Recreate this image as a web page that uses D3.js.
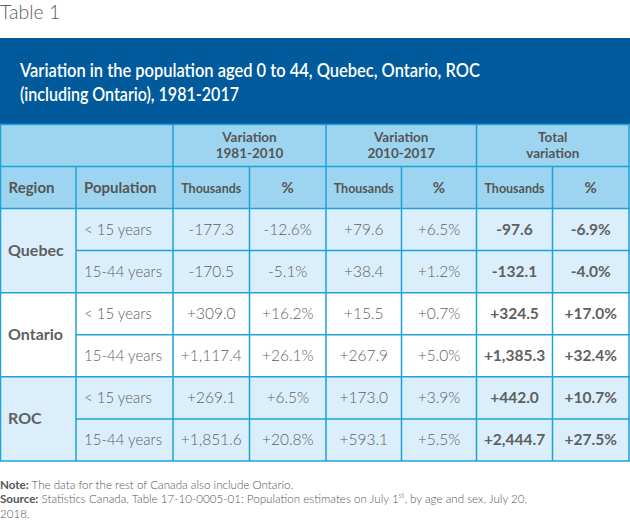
<!DOCTYPE html>
<html><head><meta charset="utf-8">
<script src="https://cdn.jsdelivr.net/npm/d3@7"></script>
<style>
html,body{margin:0;padding:0;background:#fff;}
svg{display:block;}
</style></head>
<body>
<script>
// ---- data ----
const tableLabel = "Table 1";
const titleLines = ["Variation in the population aged 0 to 44, Quebec, Ontario, ROC", "(including Ontario), 1981-2017"];
const groupHeaders = [["Variation", "1981-2010"], ["Variation", "2010-2017"], ["Total", "variation"]];
const subHeaders = ["Region", "Population", "Thousands", "%", "Thousands", "%", "Thousands", "%"];
const regions = ["Quebec", "Ontario", "ROC"];
const populations = ["< 15 years", "15-44 years"];
const var1981Thousands = [-177.3, -170.5, 309.0, 1117.4, 269.1, 1851.6];
const var1981Pct = [-12.6, -5.1, 16.2, 26.1, 6.5, 20.8];
const var2010Thousands = [79.6, 38.4, 15.5, 267.9, 173.0, 593.1];
const var2010Pct = [6.5, 1.2, 0.7, 5.0, 3.9, 5.5];
const totalThousands = [-97.6, -132.1, 324.5, 1385.3, 442.0, 2444.7];
const totalPct = [-6.9, -4.0, 17.0, 32.4, 10.7, 27.5];
const noteText = "The data for the rest of Canada also include Ontario.";
const sourceText = "Statistics Canada, Table 17-10-0005-01: Population estimates on July 1";

// ---- layout ----
const W = 630, H = 521;
const colEdges = [0.5, 76, 173, 249.5, 326, 401.5, 476.5, 552.5, 629];
const bannerTop = 38, bannerBottom = 124.5;
const head1 = [124.5, 166.5], head2 = [166.5, 208.5];
const bodyTop = 208.5, bodyBottom = 461;
const C = {
  banner: "#005a9c", head: "#9dd5f1", band: "#dbeefb", white: "#ffffff",
  line: "#1ea2dc", text: "#5f5f5f", headText: "#555555"
};
const FONT = "Lato, 'Open Sans', sans-serif";

const loc = d3.formatLocale({decimal: ".", thousands: ",", grouping: [3], currency: ["$", ""], minus: "-"});
const fmtK = loc.format("+,.1f");
const fmtP = v => loc.format("+.1f")(v) + "%";

const svg = d3.select("body").append("svg").attr("width", W).attr("height", H)
  .style("font-family", FONT);

// Table label
svg.append("text").attr("x", 0).attr("y", 19).attr("fill", "#606060")
  .style("font-size", "19.5px").style("font-weight", 300).text(tableLabel);

// Banner
svg.append("rect").attr("x", 0).attr("y", bannerTop).attr("width", W).attr("height", bannerBottom - bannerTop).attr("fill", C.banner);
const titleWidths = [460, 219];
svg.append("g").selectAll("text").data(titleLines).join("text")
  .attr("x", 20).attr("y", (d, i) => 76.5 + i * 24.5)
  .attr("textLength", (d, i) => titleWidths[i]).attr("lengthAdjust", "spacingAndGlyphs")
  .attr("fill", "#fff").style("font-size", "19px").style("font-weight", 600).text(d => d);

// row scale
const rowIdx = d3.range(var1981Thousands.length);
const y = d3.scaleBand().domain(rowIdx).range([bodyTop, bodyBottom]).padding(0);
const x = i => colEdges[i];
const cx = i => (colEdges[i] + colEdges[i + 1]) / 2;

// header backgrounds
svg.append("rect").attr("x", 0).attr("y", head1[0]).attr("width", W).attr("height", head2[1] - head1[0]).attr("fill", C.head);

// body backgrounds per region
svg.append("g").selectAll("rect").data(regions).join("rect")
  .attr("x", 0).attr("y", (d, i) => y(i * 2)).attr("width", W)
  .attr("height", y.bandwidth() * 2)
  .attr("fill", (d, i) => i % 2 === 0 ? C.band : C.white);

// group headers
const groupCols = [2, 4, 6];
const gh = svg.append("g").selectAll("text").data(groupHeaders).join("text")
  .attr("text-anchor", "middle").attr("fill", C.headText)
  .style("font-size", "13.5px").style("font-weight", 700);
gh.each(function(d, i) {
  const cxx = (colEdges[groupCols[i]] + colEdges[groupCols[i] + 2]) / 2;
  d3.select(this).selectAll("tspan").data(d).join("tspan")
    .attr("x", cxx).attr("y", (t, j) => 142 + j * 16.2).text(t => t);
});

// sub headers
svg.append("g").selectAll("text").data(subHeaders).join("text")
  .attr("x", (d, i) => i < 2 ? x(i) + 8 : cx(i))
  .attr("y", 193)
  .attr("text-anchor", (d, i) => i < 2 ? "start" : "middle")
  .attr("fill", C.headText)
  .each(function(d) { if (d === "Thousands") d3.select(this).attr("textLength", 60).attr("lengthAdjust", "spacingAndGlyphs"); })
  .style("font-size", d => d === "Thousands" ? "14px" : "15px")
  .style("font-weight", 700)
  .text(d => d);

// region labels
svg.append("g").selectAll("text").data(regions).join("text")
  .attr("x", 8).attr("y", (d, i) => y(i * 2) + y.bandwidth() + 5)
  .attr("fill", C.text).style("font-size", "16px").style("font-weight", 700).text(d => d);

// population labels
svg.append("g").selectAll("text").data(rowIdx).join("text")
  .attr("x", x(1) + 8).attr("y", i => y(i) + y.bandwidth() / 2 + 5.5)
  .attr("fill", C.text).style("font-size", "15px").style("font-weight", 300)
  .text(i => populations[i % 2]);

// values
const columns = [
  {vals: var1981Thousands, f: fmtK, bold: false},
  {vals: var1981Pct, f: fmtP, bold: false},
  {vals: var2010Thousands, f: fmtK, bold: false},
  {vals: var2010Pct, f: fmtP, bold: false},
  {vals: totalThousands, f: fmtK, bold: true},
  {vals: totalPct, f: fmtP, bold: true}
];
columns.forEach((col, ci) => {
  svg.append("g").selectAll("text").data(col.vals).join("text")
    .attr("x", cx(ci + 2)).attr("y", (d, i) => y(i) + y.bandwidth() / 2 + 5.5)
    .attr("text-anchor", "middle").attr("fill", C.text)
    .style("font-size", "15.5px").style("font-weight", col.bold ? 700 : 300)
    .text(d => col.f(d));
});

// grid lines
const lines = svg.append("g").attr("stroke", C.line).attr("stroke-width", 1.5).attr("fill", "none");
const hLines = [
  {x1: 0, x2: W, y: head1[0]},
  {x1: 0, x2: W, y: head1[1]},
  {x1: 0, x2: W, y: head2[1]}
];
rowIdx.forEach(i => {
  if (i === 0) return;
  hLines.push({x1: i % 2 === 1 ? x(1) : 0, x2: W, y: y(i)});
});
hLines.push({x1: 0, x2: W, y: bodyBottom});
lines.selectAll("line.h").data(hLines).join("line").attr("class", "h")
  .attr("x1", d => d.x1).attr("x2", d => d.x2).attr("y1", d => d.y).attr("y2", d => d.y);
const vLines = [];
colEdges.forEach((e, i) => {
  if (i === 0 || i === colEdges.length - 1 || groupCols.includes(i)) vLines.push({x: e, y1: head1[0], y2: bodyBottom});
  else vLines.push({x: e, y1: head2[0], y2: bodyBottom});
});
lines.selectAll("line.v").data(vLines).join("line").attr("class", "v")
  .attr("x1", d => d.x).attr("x2", d => d.x).attr("y1", d => d.y1).attr("y2", d => d.y2);

// footnotes
const foot = svg.append("g").attr("fill", "#555").style("font-size", "11.6px");
const t1 = foot.append("text").attr("x", 0).attr("y", 488.5);
t1.append("tspan").style("font-weight", 700).text("Note:");
t1.append("tspan").style("font-weight", 300).text(" " + noteText);
const t2 = foot.append("text").attr("x", 0).attr("y", 503);
t2.append("tspan").style("font-weight", 700).text("Source:");
t2.append("tspan").style("font-weight", 300).text(" " + sourceText);
t2.append("tspan").style("font-weight", 300).style("font-size", "7.5px").attr("dy", -5).text("st");
t2.append("tspan").style("font-weight", 300).attr("dy", 5).text(", by age and sex, July 20,");
foot.append("text").attr("x", 0).attr("y", 517.5).style("font-weight", 300).text("2018.");
</script>
</body></html>
